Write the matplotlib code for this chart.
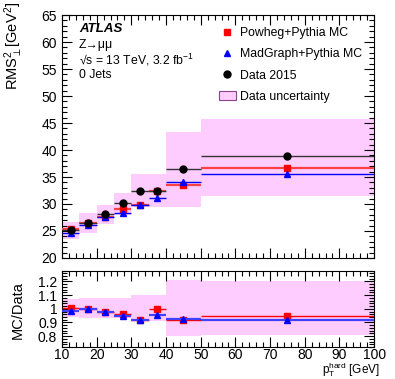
import matplotlib
matplotlib.use("Agg")
import matplotlib.pyplot as plt
import numpy as np
from matplotlib.ticker import MultipleLocator, FuncFormatter
from matplotlib.patches import Patch
from matplotlib.lines import Line2D

plt.rcParams["font.family"] = ["Liberation Sans", "DejaVu Sans"]
plt.rcParams["mathtext.fontset"] = "custom"
plt.rcParams["mathtext.rm"] = "Liberation Sans"
plt.rcParams["mathtext.it"] = "Liberation Sans:italic"
plt.rcParams["mathtext.bf"] = "Liberation Sans:bold"

# bins in pT hard [GeV]
bin_edges = [10, 15, 20, 25, 30, 35, 40, 50, 100]

# RMS^2 perp values [GeV^2]
data_2015 = [25.2, 26.4, 28.2, 30.1, 32.5, 32.5, 36.4, 38.8]
powheg = [25.3, 26.4, 27.6, 29.0, 29.9, 32.5, 33.6, 36.7]
madgraph = [24.7, 26.2, 27.5, 28.4, 29.8, 31.2, 34.0, 35.6]
data_unc_lo = [23.5, 24.6, 26.3, 28.0, 29.5, 29.5, 29.5, 31.5]
data_unc_hi = [26.7, 28.3, 29.8, 32.1, 35.5, 35.6, 43.4, 45.7]

# MC / Data ratios
ratio_powheg = [1.006, 1.0, 0.977, 0.965, 0.921, 1.0, 0.921, 0.95]
ratio_madgraph = [0.984, 0.996, 0.977, 0.945, 0.916, 0.958, 0.928, 0.921]
ratio_unc_lo = [0.94, 0.933, 0.935, 0.935, 0.909, 0.909, 0.80, 0.807]
ratio_unc_hi = [1.074, 1.079, 1.077, 1.077, 1.10, 1.10, 1.208, 1.20]

edges = np.array(bin_edges, dtype=float)
centers = 0.5 * (edges[:-1] + edges[1:])
half = 0.5 * np.diff(edges)
widths = np.diff(edges)

pink = "#ffccff"

fig = plt.figure(figsize=(3.95, 3.79), dpi=100)
ax = fig.add_axes([0.157, 0.3193, 0.790, 0.641])
rax = fig.add_axes([0.157, 0.0844, 0.790, 0.2018])

# main panel
ax.bar(edges[:-1], np.array(data_unc_hi) - np.array(data_unc_lo), width=widths,
       bottom=data_unc_lo, align="edge", color=pink, linewidth=0, zorder=1)
ax.errorbar(centers, powheg, xerr=half, fmt="s", color="red", ecolor="#ff4040",
            markersize=5, elinewidth=1.6, capsize=0, zorder=3)
ax.errorbar(centers, madgraph, xerr=half, fmt="^", color="blue", ecolor="blue",
            markersize=5, elinewidth=1.0, capsize=0, zorder=4)
ax.errorbar(centers, data_2015, xerr=half, fmt="o", color="black", ecolor="#333333",
            markersize=5, elinewidth=1.0, capsize=0, zorder=5)

ax.set_xlim(10, 100)
ax.set_ylim(20, 65)
ax.yaxis.set_major_locator(MultipleLocator(5))
ax.yaxis.set_minor_locator(MultipleLocator(1))
ax.tick_params(labelbottom=False)
ax.set_ylabel(r"RMS$^{2}_{\perp}$[GeV$^{2}$]", fontsize=10.5, loc="top")

ax.text(0.054, 0.942, "ATLAS", transform=ax.transAxes, fontsize=9.5,
        fontweight="bold", fontstyle="italic", va="center")
ax.text(0.054, 0.877, "Z\u2192\u03bc\u03bc", transform=ax.transAxes, fontsize=8.8, va="center")
ax.text(0.054, 0.815, "\u221as = 13 TeV, 3.2 fb$^{-1}$", transform=ax.transAxes,
        fontsize=8.8, va="center")
ax.text(0.054, 0.753, "0 Jets", transform=ax.transAxes, fontsize=8.8, va="center")

handles = [
    Line2D([], [], marker="s", color="red", linestyle="none", markersize=5),
    Line2D([], [], marker="^", color="blue", linestyle="none", markersize=5),
    Line2D([], [], marker="o", color="black", linestyle="none", markersize=5),
    Patch(facecolor=pink, edgecolor="#884488", linewidth=0.8),
]
labels = ["Powheg+Pythia MC", "MadGraph+Pythia MC", "Data 2015", "Data uncertainty"]
ax.legend(handles, labels, loc="upper left", bbox_to_anchor=(0.475, 0.985),
          frameon=False, fontsize=8.8, handlelength=1.4, handletextpad=0.35,
          labelspacing=0.75, borderaxespad=0.3)

# ratio panel
rax.bar(edges[:-1], np.array(ratio_unc_hi) - np.array(ratio_unc_lo), width=widths,
        bottom=ratio_unc_lo, align="edge", color=pink, linewidth=0, zorder=1)
rax.errorbar(centers, ratio_powheg, xerr=half, fmt="s", color="red", ecolor="red",
             markersize=5, elinewidth=1.0, capsize=0, zorder=3)
rax.errorbar(centers, ratio_madgraph, xerr=half, fmt="^", color="blue", ecolor="#4040ff",
             markersize=5, elinewidth=1.6, capsize=0, zorder=4)
rax.set_xlim(10, 100)
rax.set_ylim(0.72, 1.28)
rax.yaxis.set_major_locator(MultipleLocator(0.1))
rax.yaxis.set_minor_locator(MultipleLocator(0.02))
rax.yaxis.set_major_formatter(FuncFormatter(lambda v, p: f"{v:g}"))
rax.set_ylabel("MC/Data", fontsize=10.5)
rax.set_xlabel(r"p$_{\mathrm{T}}^{\mathrm{hard}}$ [GeV]", fontsize=8.5, loc="right")

for a in (ax, rax):
    a.xaxis.set_major_locator(MultipleLocator(10))
    a.xaxis.set_minor_locator(MultipleLocator(2))
    a.tick_params(which="both", direction="in", top=True, right=True, labelsize=10, width=0.8)
    a.tick_params(which="major", length=7)
    a.tick_params(which="minor", length=3.5)
    for s in a.spines.values():
        s.set_linewidth(0.8)
rax.tick_params(axis="x", which="major", pad=0.5)

ax.yaxis.set_label_coords(-0.118, 1.053)
rax.yaxis.set_label_coords(-0.118, 0.48)
rax.xaxis.set_label_coords(1.02, -0.18)
rax.xaxis.label.set_verticalalignment("top")

fig.savefig("out.png", dpi=100)
